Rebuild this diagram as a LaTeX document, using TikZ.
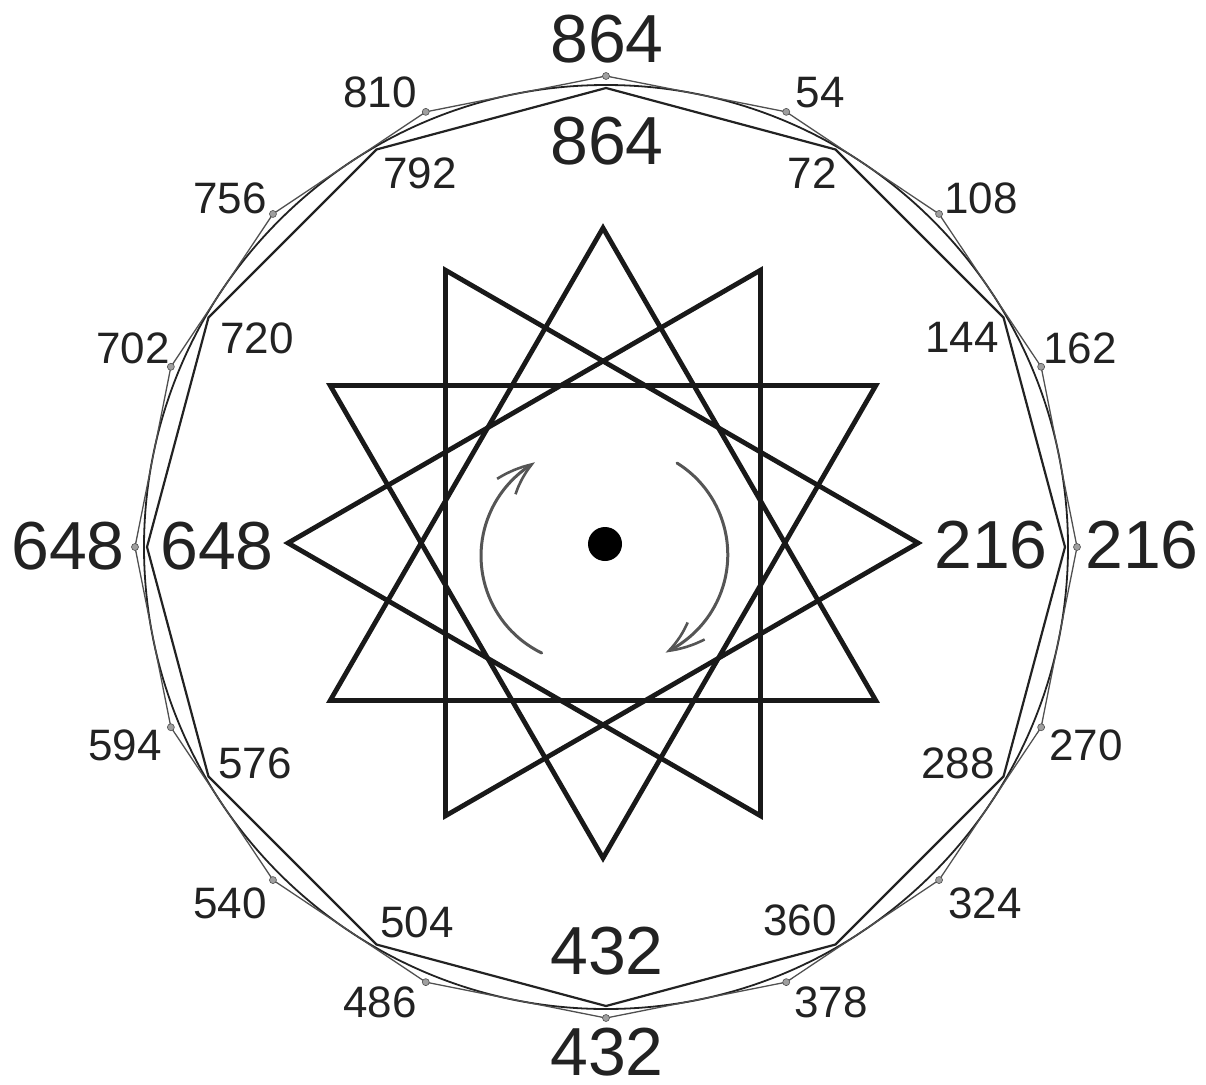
\documentclass[tikz,border=0pt]{standalone}
\usepackage{fontspec}
\setmainfont{Liberation Sans}
\usetikzlibrary{arrows.meta,bending,calc}
\definecolor{ink}{HTML}{222222}
\definecolor{thin}{HTML}{505050}
\definecolor{arrowgray}{HTML}{555555}
\tikzset{
  small/.style={font=\fontsize{44}{44}\selectfont, inner sep=0pt, text=ink},
  big/.style={font=\fontsize{68}{68}\selectfont, inner sep=0pt, text=ink},
  poly16/.style={draw=thin, line width=1.3pt, line join=miter},
  ring/.style={draw=ink, line width=1.8pt},
  poly12/.style={draw=ink, line width=2.2pt, line join=miter},
  starline/.style={draw=black!90, line width=4.8pt, line join=miter},
  vdot/.style={fill=gray!75, draw=thin, line width=0.6pt},
  turn/.style={draw=arrowgray, line width=3pt, line cap=round,
    -{Straight Barb[length=34pt,width=24pt,line width=2.6pt,bend]}}
}
\begin{document}
\begin{tikzpicture}[x=1pt,y=-1pt]
\useasboundingbox (0,0) rectangle (1206,1084);
\fill[white] (0,0) rectangle (1206,1084);
% centres
\coordinate (C) at (606,547);
\coordinate (S) at (603,543);
% 16-gon vertices
\foreach \i in {0,...,15} {
  \coordinate (o\i) at ($(C)+(-90+22.5*\i:471)$);
}
% 12-gon vertices
\foreach \i in {0,...,11} {
  \coordinate (t\i) at ($(C)+(-90+30*\i:459)$);
}
% star points
\foreach \i in {0,...,11} {
  \coordinate (s\i) at ($(S)+(-90+30*\i:315)$);
}
% circle
\draw[ring] (C) circle (462);
% 12-gon
\draw[poly12] (t0) \foreach \i in {1,...,11} { -- (t\i) } -- cycle;
% 16-gon
\draw[poly16] (o0) \foreach \i in {1,...,15} { -- (o\i) } -- cycle;
\foreach \i in {0,...,15} { \filldraw[vdot] (o\i) circle (3.5); }
% star: four triangles
\foreach \k in {0,...,3} {
  \pgfmathtruncatemacro{\a}{\k}
  \pgfmathtruncatemacro{\b}{\k+4}
  \pgfmathtruncatemacro{\c}{\k+8}
  \draw[starline] (s\a) -- (s\b) -- (s\c) -- cycle;
}
% centre dot
\fill[black] (605,544) circle (17);
% rotation arrows
\coordinate (la) at (541.7,653);
\coordinate (ra) at (677,463);
\draw[turn] (la) arc[start angle=116, end angle=240, radius=108];
\draw[turn] (ra) arc[start angle=-58, end angle=65, radius=108];
% big labels
\node[big] (b864o) at (607,39) {864};
\node[big] (b864i) at (607,141) {864};
\node[big] (b216i) at (991,545) {216};
\node[big] (b216o) at (1142,545) {216};
\node[big] (b648o) at (68,546) {648};
\node[big] (b648i) at (217,546) {648};
\node[big] (b432i) at (607,951) {432};
\node[big] (b432o) at (607,1052) {432};
% small labels, outer ring
\node[small] (n54) at (820,93) {54};
\node[small] (n108) at (981,198) {108};
\node[small] (n162) at (1080,348) {162};
\node[small] (n270) at (1086,745) {270};
\node[small] (n324) at (985,903) {324};
\node[small] (n378) at (831,1002) {378};
\node[small] (n486) at (380,1002) {486};
\node[small] (n540) at (230,903) {540};
\node[small] (n594) at (125,745) {594};
\node[small] (n702) at (133,348) {702};
\node[small] (n756) at (230,198) {756};
\node[small] (n810) at (380,92) {810};
% small labels, inner ring
\node[small] (n72) at (812,173) {72};
\node[small] (n144) at (962,337) {144};
\node[small] (n288) at (958,763) {288};
\node[small] (n360) at (800,920) {360};
\node[small] (n504) at (417,922) {504};
\node[small] (n576) at (255,763) {576};
\node[small] (n720) at (257,338) {720};
\node[small] (n792) at (420,173) {792};
\end{tikzpicture}
\end{document}
